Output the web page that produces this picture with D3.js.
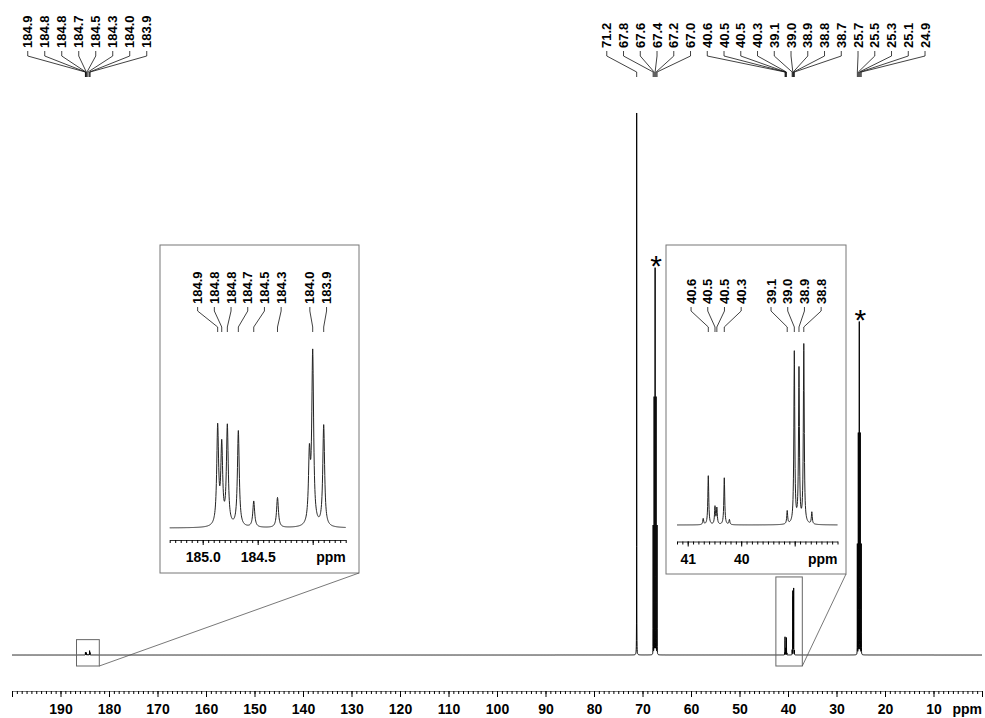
<!DOCTYPE html>
<html>
<head>
<meta charset="utf-8">
<script src="https://cdn.jsdelivr.net/npm/d3@7"></script>
<style>
  body { margin: 0; background: #fff; }
  text { font-family: "Liberation Sans", Arial, Helvetica, sans-serif; font-weight: bold; fill: #000; }
</style>
</head>
<body>
<svg id="chart" width="985" height="718"></svg>
<script>
// peak list (intensity in units of the full-scale main plot, 71.2 ppm = 100)
const peakPpm   = [184.864, 184.827, 184.776, 184.676, 184.536, 184.32, 184.03, 184.00, 183.90,
                   71.2, 67.8, 67.6, 67.4, 67.2, 67.0,
                   40.71, 40.615, 40.49, 40.455, 40.316, 40.22, 39.14, 39.007, 38.92, 38.83, 38.68,
                   25.7, 25.5, 25.3, 25.1, 24.9];
const peakInt   = [0.44, 0.35, 0.445, 0.43, 0.117, 0.135, 0.3, 0.77, 0.455,
                   100, 23.8, 47.4, 71.2, 47.4, 23.8,
                   0.41, 3.34, 1.2, 1.1, 3.2, 0.34, 0.89, 11.7, 10.5, 12.2, 0.82,
                   20.4, 40.8, 61.3, 40.8, 20.4];
const peakLabel = ["184.9", "184.8", "184.8", "184.7", "184.5", "184.3", "", "184.0", "183.9",
                   "71.2", "67.8", "67.6", "67.4", "67.2", "67.0",
                   "", "40.6", "40.5", "40.5", "40.3", "", "39.1", "39.0", "38.9", "38.8", "38.7",
                   "25.7", "25.5", "25.3", "25.1", "24.9"];
const insetLabelled = [1, 1, 1, 1, 1, 1, 0, 1, 1,
                       0, 0, 0, 0, 0, 0,
                       0, 1, 1, 1, 1, 0, 1, 1, 1, 1, 0,
                       0, 0, 0, 0, 0];
const lineWidthPpm = 0.01;           // Lorentzian half width
const solventCentres = [67.4, 25.3]; // starred multiplets

const mainDomain = [200, 0];
const mainTickValues = d3.range(190, 9, -10);
const leftInsetDomain = [185.3, 183.7];
const leftInsetTicks = [185.0, 184.5];
const leftInsetTickLabels = ["185.0", "184.5"];
const rightInsetDomain = [41.2, 38.2];
const rightInsetTicks = [41, 40];
const rightInsetTickLabels = ["41", "40"];
const leftBoxPpm = [186.7, 182.0];
const rightBoxPpm = [42.5, 37.05];

const peaks = peakPpm.map((p, i) => ({ ppm: p, h: peakInt[i], label: peakLabel[i], inset: insetLabelled[i] === 1 }));

function intensity(ppm) {
  let s = 0;
  for (const pk of peaks) {
    const d = (ppm - pk.ppm) / lineWidthPpm;
    s += pk.h / (1 + d * d);
  }
  return s;
}

function sampleGrid(domain, step) {
  const lo = Math.min(...domain), hi = Math.max(...domain);
  const n = Math.round((hi - lo) / step);
  const grid = d3.range(n + 1).map(i => lo + i * step);
  peaks.forEach(pk => { if (pk.ppm > lo && pk.ppm < hi) grid.push(pk.ppm); });
  return grid.sort((a, b) => b - a);
}

// cluster labels so they sit centred over their peaks with fixed spacing
function layoutLabels(xs, gap) {
  const place = c => {
    const m = d3.mean(c.xs);
    c.pos = c.xs.map((_, i) => m + (i - (c.xs.length - 1) / 2) * gap);
  };
  let cl = xs.map(v => ({ xs: [v] }));
  cl.forEach(place);
  let merged = true;
  while (merged) {
    merged = false;
    for (let i = 0; i < cl.length - 1; i++) {
      const a = cl[i], b = cl[i + 1];
      if (a.pos[a.pos.length - 1] + gap > b.pos[0]) {
        const c = { xs: a.xs.concat(b.xs) };
        place(c);
        cl.splice(i, 2, c);
        merged = true;
        break;
      }
    }
  }
  return cl.flatMap(c => c.pos);
}

function drawLabels(g, list, xs, gap, textBottom, ly, fontSize) {
  const px = list.map(d => xs(d.ppm));
  const lx = layoutLabels(px, gap);
  const line = d3.line();
  list.forEach((d, i) => {
    g.append("text")
      .attr("transform", `translate(${lx[i]},${textBottom}) rotate(-90)`)
      .attr("dy", "0.35em")
      .attr("font-size", fontSize)
      .text(d.label);
    g.append("path")
      .attr("d", line([[lx[i], ly[0]], [lx[i], ly[1]], [px[i], ly[2]], [px[i], ly[3]]]))
      .attr("fill", "none")
      .attr("stroke", "#111")
      .attr("stroke-width", 0.8);
  });
}

const svg = d3.select("#chart");

// ---------- main spectrum ----------
const x = d3.scaleLinear().domain(mainDomain).range([12, 982]);
const y = d3.scaleLinear().domain([0, 100]).range([655, 113]);

const mainPts = sampleGrid(mainDomain, 0.02).map(p => [x(p), y(intensity(p))]);
svg.append("path")
  .attr("d", d3.line()(mainPts))
  .attr("fill", "none")
  .attr("stroke", "#000")
  .attr("stroke-width", 1);

// axis
const axisY = 691;
svg.append("g")
  .attr("transform", `translate(0,${axisY})`)
  .call(d3.axisBottom(x).tickValues(d3.range(0, 201)).tickSize(3).tickSizeOuter(0).tickFormat(""))
  .call(g => g.select(".domain").attr("stroke", "#444").attr("stroke-width", 0.7));
svg.append("g")
  .attr("transform", `translate(0,${axisY})`)
  .call(d3.axisBottom(x).tickValues(d3.range(0, 201, 10)).tickSize(6).tickSizeOuter(0).tickPadding(7)
    .tickFormat(d => mainTickValues.includes(d) ? d : ""))
  .call(g => g.select(".domain").remove())
  .call(g => g.selectAll("text").attr("font-size", 14).attr("font-family", null));
svg.append("text").attr("x", 982).attr("y", 714).attr("text-anchor", "end").attr("font-size", 14).text("ppm");

// top labels
drawLabels(svg.append("g"), peaks.filter(d => d.label && d.ppm > 100), x, 17, 48, [51, 56, 72, 77], 13);
drawLabels(svg.append("g"), peaks.filter(d => d.label && d.ppm < 100), x, 16.75, 48, [51, 56, 72, 77], 13);

// solvent asterisks
solventCentres.forEach(c => {
  const top = y(intensity(c));
  svg.append("text")
    .attr("x", x(c) + 1).attr("y", top + 8)
    .attr("text-anchor", "middle")
    .attr("font-size", 30)
    .style("font-weight", "normal")
    .text("*");
});

// ---------- insets ----------
function inset(cfg) {
  const g = svg.append("g");
  // zoom marker box on main spectrum
  const inRange = peaks.filter(p => p.ppm <= cfg.boxPpm[0] && p.ppm >= cfg.boxPpm[1]);
  const bx0 = x(cfg.boxPpm[0]), bx1 = x(cfg.boxPpm[1]);
  const by0 = d3.min(inRange, p => y(intensity(p.ppm))) - 11, by1 = y(0) + 11;
  g.append("rect").attr("x", bx0).attr("y", by0).attr("width", bx1 - bx0).attr("height", by1 - by0)
    .attr("fill", "none").attr("stroke", "#666").attr("stroke-width", 1);
  // inset frame
  const [fx0, fy0, fx1, fy1] = cfg.frame;
  g.append("rect").attr("x", fx0).attr("y", fy0).attr("width", fx1 - fx0).attr("height", fy1 - fy0)
    .attr("fill", "#fff").attr("stroke", "#777").attr("stroke-width", 1);
  g.append("line").attr("x1", bx1).attr("y1", by1).attr("x2", fx1).attr("y2", fy1)
    .attr("stroke", "#555").attr("stroke-width", 0.8);

  const xi = d3.scaleLinear().domain(cfg.domain).range(cfg.xRange);
  const yi = d3.scaleLinear().domain([0, cfg.yMax]).range([cfg.base, cfg.base - cfg.yPix]);
  const pts = sampleGrid(cfg.domain, cfg.step).map(p => [xi(p), yi(intensity(p))]);
  g.append("path").attr("d", d3.line()(pts)).attr("fill", "none")
    .attr("stroke", "#222").attr("stroke-width", 1);

  // axis
  const nMinor = Math.round(Math.abs(cfg.domain[0] - cfg.domain[1]) / cfg.minor);
  const lo = Math.min(...cfg.domain);
  g.append("g").attr("transform", `translate(0,${cfg.axisY})`)
    .call(d3.axisBottom(xi).tickValues(d3.range(nMinor + 1).map(i => lo + i * cfg.minor)).tickSize(3).tickSizeOuter(0).tickFormat(""))
    .call(a => a.select(".domain").attr("stroke", "#333").attr("stroke-width", 1));
  g.append("g").attr("transform", `translate(0,${cfg.axisY})`)
    .call(d3.axisBottom(xi).tickValues(cfg.major).tickSize(5).tickSizeOuter(0).tickPadding(7.5)
      .tickFormat(d => { const k = cfg.ticks.indexOf(d); return k >= 0 ? cfg.tickLabels[k] : ""; }))
    .call(a => a.select(".domain").remove())
    .call(a => a.selectAll("text").attr("font-size", 14).attr("font-family", null));
  g.append("text").attr("x", cfg.xRange[1]).attr("y", cfg.axisY + 22).attr("text-anchor", "end")
    .attr("font-size", 14).text("ppm");

  drawLabels(g, peaks.filter(d => d.inset && d.ppm <= cfg.domain[0] && d.ppm >= cfg.domain[1]),
    xi, 16.7, 304, [307, 311, 327, 332], 13);
}

inset({
  boxPpm: leftBoxPpm, frame: [160, 245, 359, 573],
  domain: leftInsetDomain, xRange: [169.7, 345.7], step: 0.002,
  yMax: 0.8, base: 528, yPix: 178, axisY: 540, minor: 0.05,
  major: [185.0, 184.5, 184.0], ticks: leftInsetTicks, tickLabels: leftInsetTickLabels
});
inset({
  boxPpm: rightBoxPpm, frame: [666, 245, 846, 574],
  domain: rightInsetDomain, xRange: [677, 837.5], step: 0.004,
  yMax: 12.2, base: 525, yPix: 179, axisY: 541.5, minor: 0.1,
  major: [41, 40, 39], ticks: rightInsetTicks, tickLabels: rightInsetTickLabels
});
</script>
</body>
</html>
